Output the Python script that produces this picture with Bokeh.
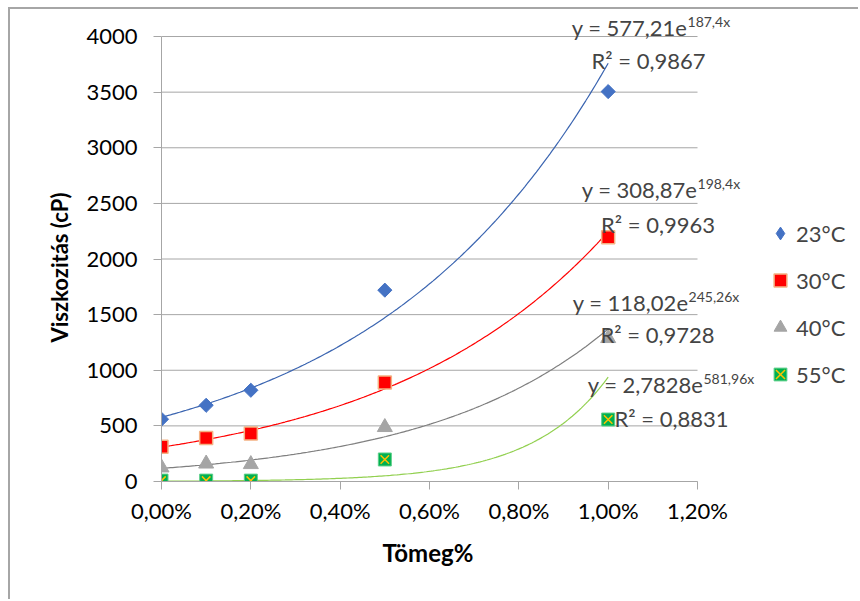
import numpy as np
from bokeh.plotting import figure
from bokeh.models import (Range1d, FixedTicker, CustomJSTickFormatter, Legend, LegendItem,
                          Label, Title)
from bokeh.embed import file_html
from bokeh.resources import INLINE

# ---- data ----
mass_frac = [0.0, 0.001, 0.002, 0.005, 0.01]
visc_23 = [560, 685, 820, 1720, 3505]
visc_30 = [312, 390, 432, 890, 2195]
visc_40 = [125, 160, 155, 488, 1288]
visc_55 = [8, 8, 8, 198, 557]
series_names = ["23°C", "30°C", "40°C", "55°C"]
fit_a = [577.21, 308.87, 118.02, 2.7828]
fit_b = [187.4, 198.4, 245.26, 581.96]
fit_eq_main = ["y = 577,21e", "y = 308,87e", "y = 118,02e", "y = 2,7828e"]
fit_eq_sup = ["187,4x", "198,4x", "245,26x", "581,96x"]
fit_r2 = ["R² = 0,9867", "R² = 0,9963", "R² = 0,9728", "R² = 0,8831"]
x_ticks = [0.0, 0.002, 0.004, 0.006, 0.008, 0.010, 0.012]
y_ticks = [0, 500, 1000, 1500, 2000, 2500, 3000, 3500, 4000]
x_title = "Tömeg%"
y_title = "Viszkozitás (cP)"

FONT = "Lato"
FS = "22px"
GRID = "#a6a6a6"

# the frame is larger than the axes so that the labels and legend can sit outside them
p = figure(width=850, height=592, output_backend="svg", toolbar_location=None,
           x_range=Range1d(0, 0.015425), y_range=Range1d(0, 4216),
           min_border_left=151, min_border_right=10, min_border_top=3, min_border_bottom=120)
p.styles = {"border-top": "2px solid #a6a6a6", "border-left": "2px solid #a6a6a6",
            "margin-left": "8px", "margin-top": "7px"}
p.outline_line_color = None
p.background_fill_color = "white"
p.border_fill_color = "white"
p.xgrid.visible = False
p.ygrid.visible = False

for ax in (p.xaxis[0], p.yaxis[0]):
    ax.axis_line_color = GRID
    ax.major_tick_line_color = GRID
    ax.major_tick_out = 8
    ax.major_tick_in = 0
    ax.minor_tick_line_color = None
    ax.major_label_text_font = FONT
    ax.major_label_text_font_size = FS
    ax.major_label_text_color = "black"

p.xaxis.bounds = (x_ticks[0], x_ticks[-1])
p.yaxis.bounds = (y_ticks[0], y_ticks[-1])
p.xaxis.ticker = FixedTicker(ticks=x_ticks)
p.yaxis.ticker = FixedTicker(ticks=y_ticks)
p.xaxis.formatter = CustomJSTickFormatter(code="return (tick*100).toFixed(2).replace('.', ',') + '%';")
p.yaxis.major_label_standoff = 16
p.xaxis.major_label_standoff = 7

p.add_layout(Title(text=x_title, align="left", offset=221, standoff=18, text_font=FONT,
                   text_font_size="24px", text_font_style="bold", text_color="black"), "below")
p.add_layout(Title(text=y_title, align="left", offset=139, standoff=21, text_font=FONT,
                   text_font_size=FS, text_font_style="bold", text_color="black"), "left")

# horizontal grid lines, limited to the axis span
p.segment(x0=x_ticks[0], x1=x_ticks[-1], y0=y_ticks, y1=y_ticks, line_color=GRID, line_width=1)

# trendlines
trend_colors = ["#3a64b0", "#ff0000", "#7f7f7f", "#92d050"]
xs = np.linspace(0, 0.01, 200)
for a, b, c in zip(fit_a, fit_b, trend_colors):
    p.line(xs, a * np.exp(b * xs), line_color=c, line_width=1.2)

# markers
r23 = p.scatter(mass_frac, visc_23, marker="square", size=10, angle=np.pi / 4,
                fill_color="#4472c4", line_color="#4472c4")
r30 = p.scatter(mass_frac, visc_30, marker="square", size=13,
                fill_color="#ff0000", line_color="#f4b183", line_width=1.5)
r40 = p.scatter(mass_frac, visc_40, marker="triangle", size=15,
                fill_color="#a5a5a5", line_color="#a5a5a5")
r55a = p.scatter(mass_frac, visc_55, marker="square", size=13,
                 fill_color="#00b050", line_color="#5ed08a", line_width=1)
r55b = p.scatter(mass_frac, visc_55, marker="x", size=12,
                 line_color="#ffc000", line_width=1.5)
# legend-only stand-in for the diamond (legend glyphs are drawn unrotated); not plotted
r23_key = p.scatter(x=[float("nan")], y=[float("nan")], marker="diamond",
                    fill_color="#4472c4", line_color="#4472c4")

# trendline labels (anchor positions in data units)
eq_x = [0.011776, 0.0120, 0.011799, 0.012134]     # right end of the "e"
eq_y = [4081, 2625, 1609, 872]                     # baseline
r2_x = [0.010903, 0.011116, 0.011104, 0.011418]   # centre
r2_y = [3784, 2310, 1321, 566]
for i in range(4):
    p.add_layout(Label(x=eq_x[i], y=eq_y[i], text=fit_eq_main[i], text_font=FONT,
                       text_font_size=FS, text_align="right", text_baseline="alphabetic"))
    p.add_layout(Label(x=eq_x[i], y=eq_y[i], text=fit_eq_sup[i], text_font=FONT,
                       text_font_size="14px", text_align="left", text_baseline="alphabetic",
                       y_offset=6))
    p.add_layout(Label(x=r2_x[i], y=r2_y[i], text=fit_r2[i], text_font=FONT,
                       text_font_size=FS, text_align="center", text_baseline="alphabetic"))

legend = Legend(items=[
    LegendItem(label=series_names[0], renderers=[r23_key]),
    LegendItem(label=series_names[1], renderers=[r30]),
    LegendItem(label=series_names[2], renderers=[r40]),
    LegendItem(label=series_names[3], renderers=[r55a, r55b]),
], location=(603, 90), border_line_color=None, background_fill_alpha=0,
    label_text_font=FONT, label_text_font_size=FS, label_height=22,
    glyph_height=34, glyph_width=32, spacing=13, padding=0, margin=0, label_standoff=0)
p.add_layout(legend, "center")

open("out.html", "w").write(file_html(p, INLINE))
